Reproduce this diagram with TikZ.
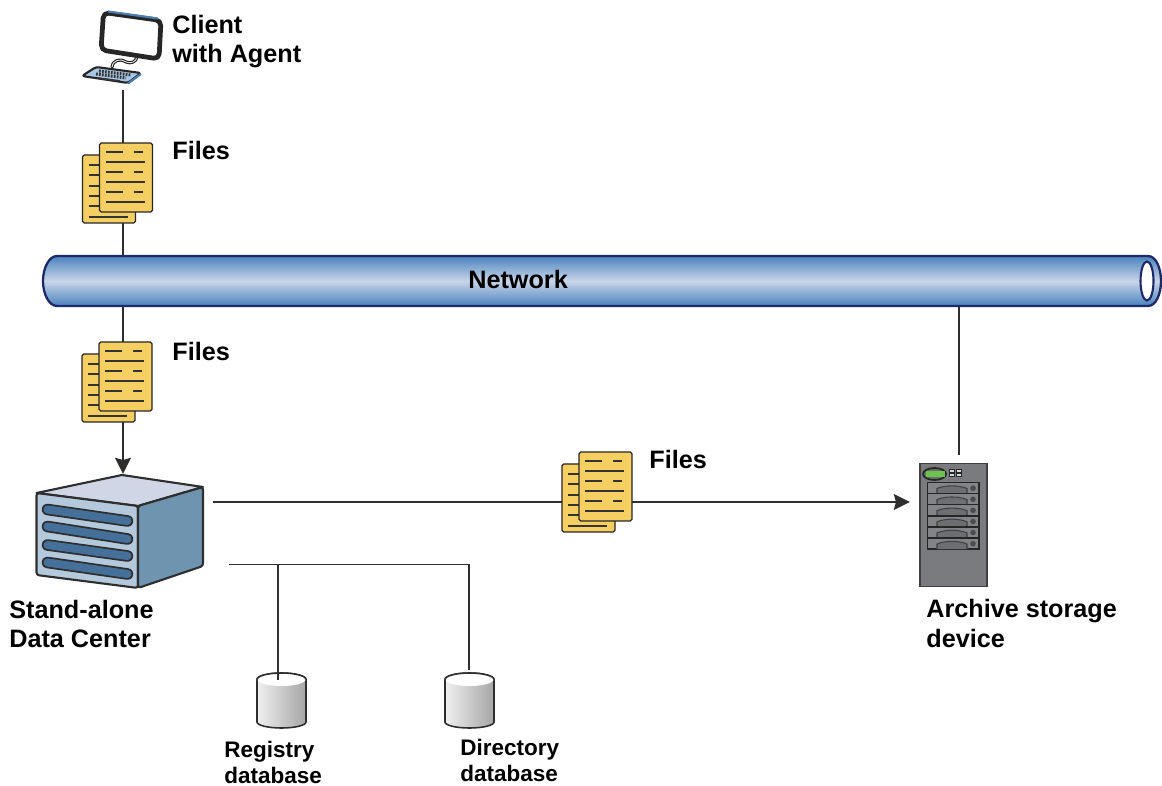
\documentclass[tikz,border=0pt]{standalone}
\usepackage{fontspec}
\setmainfont{Liberation Sans}
\usetikzlibrary{arrows.meta}
\definecolor{pagefill}{HTML}{F6CF62}
\definecolor{ink}{HTML}{2E2E2E}
\definecolor{pipeedge}{HTML}{1E2A68}
\definecolor{pipedark}{HTML}{4A82BE}
\definecolor{pipelight}{HTML}{C9D5E8}
\definecolor{srvtop}{HTML}{CFD7E7}
\definecolor{srvfront}{HTML}{B5C9DD}
\definecolor{srvside}{HTML}{6E94B0}
\definecolor{srvslot}{HTML}{44709A}
\definecolor{arcgray}{HTML}{7A7B7E}
\definecolor{arcbay}{HTML}{838487}
\definecolor{arcdome}{HTML}{6D6E71}
\definecolor{arcgreen}{HTML}{6CC24A}
\definecolor{kbd}{HTML}{A9C6E4}
\definecolor{scrn}{HTML}{4B7DAE}
\tikzset{
  x=0.02cm,y=-0.02cm,
  label14/.style={font=\fontsize{14.35}{17}\selectfont\bfseries,anchor=west,align=left,inner sep=0pt,text=black},
  label13/.style={font=\fontsize{12.8}{14.8}\selectfont\bfseries,anchor=west,align=left,inner sep=0pt,text=black},
  anchorbox/.style={inner sep=0pt,outer sep=0pt},
  wire/.style={draw=ink,line width=0.8pt},
  arrowwire/.style={wire,-{Stealth[length=9.2pt,width=9pt,inset=1.2pt]}},
  pageshape/.style={draw=black!85,fill=pagefill,line width=0.7pt,rounded corners=1pt},
  textline/.style={draw=black!80,line width=1.2pt},
  pics/filesicon/.style={code={
    \draw[pageshape] (0,12) rectangle (53,80);
    \foreach \yy in {22,32,43,53,63}{\draw[textline] (6,\yy) -- (18,\yy);}
    \draw[textline] (6,74) -- (45,74);
    \draw[pageshape] (17,0) rectangle (70,69);
    \foreach \yy in {9,29,49}{
      \draw[textline] (23,\yy) -- (40,\yy);
      \draw[textline] (51,\yy) -- (60,\yy);}
    \foreach \yy in {19,39,59}{\draw[textline] (23,\yy) -- (62,\yy);}
  }},
  pics/dbicon/.style={code={
    \shade[left color=gray!12,right color=gray!70,draw=ink,line width=0.9pt]
      (-24.5,6.5) -- (-24.5,49) arc[start angle=180,end angle=0,x radius=24.5,y radius=6]
      -- (24.5,6.5) arc[start angle=0,end angle=-180,x radius=24.5,y radius=6.5] -- cycle;
    \fill[white] (0,6.5) ellipse[x radius=24,y radius=6.5];
    \draw[ink,line width=0.9pt] (-24.5,6.5) arc[start angle=180,end angle=360,x radius=24.5,y radius=6.5];
  }}
}
\begin{document}
\begin{tikzpicture}
\useasboundingbox (0,0) rectangle (1162,786);
% anchors
\node[anchorbox,minimum width=1.2cm,minimum height=1.64cm] (client) at (123,49) {};
\node[anchorbox,minimum width=3.3cm,minimum height=2.3cm] (dc) at (123,532) {};
\node[anchorbox,minimum width=1.34cm,minimum height=2.46cm] (archive) at (953.5,525) {};
\node[anchorbox,minimum width=0.98cm,minimum height=1.1cm] (regdb) at (281.5,700) {};
\node[anchorbox,minimum width=0.98cm,minimum height=1.1cm] (dirdb) at (469.5,700) {};
\node[anchorbox,minimum width=22.36cm,minimum height=1cm] (network) at (602,281) {};
\coordinate (archtop) at (959,455);
\coordinate (dcout) at (213,502);
\coordinate (dblink) at (229,564.5);
\coordinate (regbus) at (278,564.5);
\coordinate (regend) at (278,680);
\coordinate (dirend) at (469,670);
\coordinate (arcin) at (910,502);
\coordinate (dctop) at (123,474);
% connectors
\draw[wire] (client.south) -- (client.south |- network.north);
\draw[arrowwire] (client.south |- network.south) -- (dctop);
\draw[wire] (network.south -| archtop) -- (archtop);
\draw[arrowwire] (dcout) -- (arcin);
\draw[wire] (dblink) -- (dblink -| dirend) -- (dirend);
% pipe
\shade[draw=pipeedge,line width=1.3pt,top color=pipedark,bottom color=pipedark,middle color=pipelight]
  (57,256) -- (1148,256) .. controls (1156,256) and (1161,268) .. (1161,281)
  .. controls (1161,294) and (1156,306) .. (1148,306) -- (57,306)
  .. controls (49,306) and (43,294) .. (43,281) .. controls (43,268) and (49,256) .. (57,256) -- cycle;
\draw[pipeedge,fill=white,line width=1.2pt] (1147,281) ellipse[x radius=6.5,y radius=19.5];
% client
\begin{scope}[line join=round]
\draw[black!85,line width=1.8pt,line cap=round] (112,67) .. controls (113,60) and (120,58) .. (126,62) .. controls (131,64) and (136,62) .. (137,57);
\draw[white!80!gray,line width=0.5pt,line cap=round] (112,67) .. controls (113,60) and (120,58) .. (126,62) .. controls (131,64) and (136,62) .. (137,57);
\filldraw[fill=white,draw=black!85,line width=2.7pt,rounded corners=3pt]
  (103.5,12.5) -- (161,20.5) -- (159,59) -- (101,50) -- cycle;
\draw[scrn,line width=1.2pt] (108,11.5) -- (158,18.5);
\filldraw[fill=kbd,draw=black!85,line width=1.2pt,rounded corners=1.5pt]
  (82,76) -- (96,67) -- (141,73) -- (128,83) -- cycle;
\draw[black!80,line width=1.7pt,dash pattern=on 1pt off 0.7pt] (99,71) -- (131,75);
\draw[black!80,line width=1.7pt,dash pattern=on 1pt off 0.7pt] (96,74) -- (126,78);
\draw[black!80,line width=1pt] (97,78) -- (120,81);
\draw[scrn,line width=1.2pt] (128,83.5) -- (141,74);
\end{scope}
% files
\pic (filesA) at (82.5,143) {filesicon};
\pic (filesB) at (82,342) {filesicon};
\pic (filesC) at (562,452) {filesicon};
% server
\begin{scope}[line join=round,draw=ink,line width=1.2pt]
\filldraw[fill=srvtop] (36.5,493) -- (122,475) -- (203,487) -- (138,506) -- cycle;
\filldraw[fill=srvfront,rounded corners=1.5pt] (36.5,493) -- (138,506) -- (138,588) -- (36.5,575) -- cycle;
\filldraw[fill=srvside,rounded corners=1.5pt] (138,506) -- (203,487) -- (203,566) -- (138,588) -- cycle;
\foreach \ya/\yb in {509.5/521,526.5/539,545/556,562.5/574}{
  \draw[ink,line cap=round,line width=6.6pt] (47.5,\ya) -- (127.5,\yb);
  \draw[srvslot,line cap=round,line width=4.6pt] (47.5,\ya) -- (127.5,\yb);
}
\end{scope}
% archive
\filldraw[fill=arcgray,draw=black!75,line width=0.8pt] (920,463.5) rectangle (987,586.5);
\filldraw[fill=arcdome,draw=black!85,line width=1pt] (934.5,474) ellipse[x radius=11.5,y radius=6];
\fill[arcgreen] (926,471) rectangle (945,477.5);
\foreach \xx in {949.5,956}{
  \draw[black!85,line width=0.5pt,fill=gray!30] (\xx,469.5) rectangle ++(5,3);
  \draw[black!85,line width=0.5pt,fill=gray!30] (\xx,473.5) rectangle ++(5,3);
}
\filldraw[fill=arcbay,draw=black!85,line width=1.1pt] (927.5,482.5) rectangle (979,549);
\foreach \yy in {0,1,2,3,4,5}{
  \begin{scope}[shift={(0,482.5+11.1*\yy)}]
    \ifnum\yy>0 \draw[black!85,line width=0.9pt] (927.5,0) -- (979,0);\fi
    \filldraw[fill=arcdome,draw=black!75,line width=0.6pt] (937,11) -- (937,6) .. controls (945,2.5) and (959,2.5) .. (967,6) -- (967,11);
    \fill[black!70] (973,5.7) circle[radius=2.8];
  \end{scope}
}
% databases
\pic (regicon) at (281.5,673) {dbicon};
\pic (diricon) at (469.5,673) {dbicon};
\draw[wire] (regbus) -- (regend);
% labels
\node[label14] (lclient) at (172,41.5) {Client\\with Agent};
\node[label14] (lf1) at (172,150.5) {Files};
\node[label14] (lf2) at (172,351.5) {Files};
\node[label14] (lf3) at (649,459.5) {Files};
\node[label14] (lnet) at (468,279.5) {Network};
\node[label14] (ldc) at (9,624) {Stand-alone\\Data Center};
\node[label14] (larc) at (926,623.5) {Archive storage\\device};
\node[label13] (lreg) at (224,762.5) {Registry\\database};
\node[label13] (ldir) at (460,760.5) {Directory\\database};
\end{tikzpicture}
\end{document}
